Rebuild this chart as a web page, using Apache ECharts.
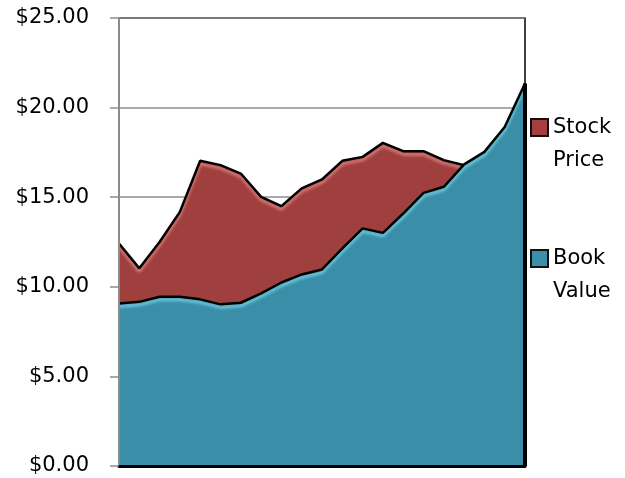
<!DOCTYPE html>
<html>
<head>
<meta charset="utf-8">
<script src="https://cdn.jsdelivr.net/npm/echarts@6/dist/echarts.min.js"></script>
<style>
html,body{margin:0;padding:0;background:#fff;}
#chart{width:625px;height:478px;}
</style>
</head>
<body>
<div id="chart"></div>
<script>
var periods = ['1','2','3','4','5','6','7','8','9','10','11','12','13','14','15','16','17','18','19','20','21'];
var stockPrice = [12.42, 11.03, 12.5, 14.18, 17.03, 16.79, 16.32, 15.02, 14.5, 15.49, 15.99, 17.03, 17.25, 18.03, 17.57, 17.57, 17.07, 16.79, 17.2, 18.5, 20.6];
var bookValue = [9.07, 9.16, 9.44, 9.44, 9.3, 9.02, 9.11, 9.63, 10.24, 10.69, 10.97, 12.14, 13.26, 13.01, 14.09, 15.24, 15.58, 16.83, 17.53, 18.92, 21.35];
var yTicks = [0, 5, 10, 15, 20, 25];

var FONT = 'DejaVu Sans';
var chart = echarts.init(document.getElementById('chart'), null, {renderer: 'canvas'});
var last = periods.length - 1;

chart.setOption({
  animation: false,
  backgroundColor: '#fff',
  grid: {left: 119, right: 100, top: 18, bottom: 12, show: true, borderColor: '#000', borderWidth: 1.5, backgroundColor: 'transparent'},
  legend: {
    orient: 'vertical', left: 530, top: 111, padding: 0, itemGap: 65,
    itemWidth: 17, itemHeight: 50,
    icon: 'path://M0,0H17V17H0Z M0,50',
    formatter: function (n) { return n.split(' ').join('\n'); },
    textStyle: {fontFamily: FONT, fontSize: 21, color: '#000', lineHeight: 33},
    data: [
      {name: 'Stock Price', itemStyle: {color: '#A3403E', borderColor: '#111', borderWidth: 2}},
      {name: 'Book Value', itemStyle: {color: '#3A90AA', borderColor: '#111', borderWidth: 2}}
    ]
  },
  xAxis: {
    type: 'category', data: periods, boundaryGap: false, z: 10,
    axisLine: {show: true, lineStyle: {color: '#000', width: 3}},
    axisTick: {show: false}, axisLabel: {show: false}, splitLine: {show: false}
  },
  yAxis: [
    {
      type: 'value', min: 0, max: 25, interval: 5, z: 0,
      axisLine: {show: false}, axisTick: {show: false}, axisLabel: {show: false},
      splitLine: {show: true, lineStyle: {color: '#8c8c8c', width: 1.5}}
    },
    {
      type: 'value', min: 0, max: 25, interval: 5, position: 'left', z: 10,
      axisLine: {show: true, lineStyle: {color: '#8c8c8c', width: 2}},
      axisTick: {show: true, length: 9, lineStyle: {color: '#8c8c8c', width: 1.5}},
      splitLine: {show: false},
      axisLabel: {
        margin: 30, fontFamily: FONT, fontSize: 21, color: '#000',
        formatter: function (v) { return yTicks.indexOf(v) >= 0 ? '$' + v.toFixed(2) : ''; }
      }
    }
  ],
  series: [
    {
      name: 'Stock Price', type: 'line', data: stockPrice, yAxisIndex: 0,
      symbol: 'none', z: 2,
      lineStyle: {color: '#000', width: 2.5, shadowColor: 'rgba(235,140,140,0.9)', shadowBlur: 3, shadowOffsetY: 3},
      itemStyle: {color: '#A3403E'},
      areaStyle: {color: '#A0403E', opacity: 1}
    },
    {
      name: 'Book Value', type: 'line', data: bookValue, yAxisIndex: 0,
      symbol: 'none', z: 3,
      lineStyle: {color: '#000', width: 2.5, shadowColor: 'rgba(120,215,235,0.95)', shadowBlur: 3, shadowOffsetY: 3},
      itemStyle: {color: '#3A90AA'},
      areaStyle: {color: '#3A8EA8', opacity: 1},
      markLine: {
        silent: true, symbol: 'none', label: {show: false},
        lineStyle: {color: '#000', width: 4, type: 'solid'},
        data: [[{coord: [last, 0]}, {coord: [last, bookValue[last]]}]]
      }
    }
  ]
});
</script>
</body>
</html>
